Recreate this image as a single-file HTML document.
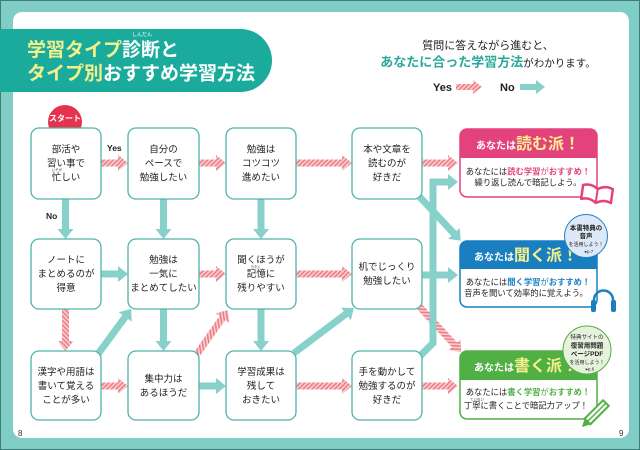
<!DOCTYPE html>
<html><head><meta charset="utf-8">
<style>
html,body{margin:0;padding:0;background:#7fcdc5;}
svg{display:block;}
text{font-family:"Liberation Sans","Noto Sans CJK JP",sans-serif;}
</style></head>
<body>
<svg width="640" height="450" viewBox="0 0 640 450" xmlns="http://www.w3.org/2000/svg">
<defs>
<pattern id="h" width="3.2" height="3.2" patternUnits="userSpaceOnUse" patternTransform="rotate(45)">
<rect width="3.2" height="3.2" fill="#fbcfd1"/><rect width="1.6" height="3.2" fill="#ec7e86"/>
</pattern>
</defs>
<rect x="0" y="0" width="640" height="450" fill="#7fcdc5"/>
<rect x="0.5" y="0.5" width="639" height="449" fill="none" stroke="#3f7d78" stroke-width="1"/>
<rect x="13" y="12" width="616" height="426" rx="9" fill="#fff"/>

<!-- title banner -->
<path d="M0,29 H240.5 A31.5,31.5 0 0 1 240.5,92 H0 Z" fill="#1bab9d"/>
<text x="142" y="36" font-size="5" fill="#fff" text-anchor="middle">しんだん</text>
<text x="27" y="56" font-size="19" font-weight="bold"><tspan fill="#f3f08c">学習タイプ</tspan><tspan fill="#fff">診断と</tspan></text>
<text x="27" y="79.5" font-size="19" font-weight="bold"><tspan fill="#f3f08c">タイプ別</tspan><tspan fill="#fff">おすすめ学習方法</tspan></text>

<!-- right header -->
<text x="488" y="49" font-size="11" fill="#222" text-anchor="middle">質問に答えながら進むと、</text>
<text x="488" y="66.5" text-anchor="middle"><tspan font-size="13" font-weight="bold" fill="#2aa89c">あなたに合った学習方法</tspan><tspan font-size="10.5" fill="#222">がわかります。</tspan></text>

<!-- legend -->
<text x="433" y="91" font-size="11" font-weight="bold" fill="#222">Yes</text>
<polygon points="456,84 473,84 473,80 482,87 473,94 473,90 456,90" fill="url(#h)"/>
<text x="500" y="91" font-size="11" font-weight="bold" fill="#222">No</text>
<polygon points="520,84 536,84 536,80 545,87 536,94 536,90 520,90" fill="#88d1ca"/>

<!-- start badge -->
<circle cx="65" cy="122" r="17" fill="#e6334d"/>
<text x="65" y="121" font-size="8" font-weight="bold" fill="#fff" text-anchor="middle">スタート</text>

<!-- Yes / No labels -->
<text x="107" y="151" font-size="8.5" font-weight="bold" fill="#222">Yes</text>
<text x="46" y="219" font-size="8.5" font-weight="bold" fill="#222">No</text>

<!-- arrows -->
<g>
<polygon transform="translate(100,163)" points="0,-3.5 18,-3.5 18,-8 28,0 18,8 18,3.5 0,3.5" fill="url(#h)"/>
<polygon transform="translate(199,163)" points="0,-3.5 17,-3.5 17,-8 27,0 17,8 17,3.5 0,3.5" fill="url(#h)"/>
<polygon transform="translate(296,163)" points="0,-3.5 46,-3.5 46,-8 56,0 46,8 46,3.5 0,3.5" fill="url(#h)"/>
<polygon transform="translate(422,163)" points="0,-3.5 26,-3.5 26,-8 36,0 26,8 26,3.5 0,3.5" fill="url(#h)"/>
<polygon transform="translate(100,274)" points="0,-3.5 18,-3.5 18,-8 28,0 18,8 18,3.5 0,3.5" fill="#88d1ca"/>
<polygon transform="translate(199,274)" points="0,-3.5 17,-3.5 17,-8 27,0 17,8 17,3.5 0,3.5" fill="url(#h)"/>
<polygon transform="translate(296,274)" points="0,-3.5 46,-3.5 46,-8 56,0 46,8 46,3.5 0,3.5" fill="url(#h)"/>
<polygon transform="translate(422,275)" points="0,-3.5 26,-3.5 26,-8 36,0 26,8 26,3.5 0,3.5" fill="#88d1ca"/>
<polygon transform="translate(100,386)" points="0,-3.5 18,-3.5 18,-8 28,0 18,8 18,3.5 0,3.5" fill="url(#h)"/>
<polygon transform="translate(199,386)" points="0,-3.5 17,-3.5 17,-8 27,0 17,8 17,3.5 0,3.5" fill="#88d1ca"/>
<polygon transform="translate(296,386)" points="0,-3.5 46,-3.5 46,-8 56,0 46,8 46,3.5 0,3.5" fill="url(#h)"/>
<polygon transform="translate(422,386)" points="0,-3.5 26,-3.5 26,-8 36,0 26,8 26,3.5 0,3.5" fill="url(#h)"/>
<polygon transform="translate(65.5,199) rotate(90)" points="0,-3.5 30,-3.5 30,-8 40,0 30,8 30,3.5 0,3.5" fill="#88d1ca"/>
<polygon transform="translate(163.5,199) rotate(90)" points="0,-3.5 30,-3.5 30,-8 40,0 30,8 30,3.5 0,3.5" fill="#88d1ca"/>
<polygon transform="translate(261,199) rotate(90)" points="0,-3.5 30,-3.5 30,-8 40,0 30,8 30,3.5 0,3.5" fill="#88d1ca"/>
<polygon transform="translate(65.5,309) rotate(90)" points="0,-3.5 32,-3.5 32,-8 42,0 32,8 32,3.5 0,3.5" fill="url(#h)"/>
<polygon transform="translate(163.5,309) rotate(90)" points="0,-3.5 32,-3.5 32,-8 42,0 32,8 32,3.5 0,3.5" fill="#88d1ca"/>
<polygon transform="translate(261,309) rotate(90)" points="0,-3.5 32,-3.5 32,-8 42,0 32,8 32,3.5 0,3.5" fill="#88d1ca"/>
<polygon transform="translate(417,194) rotate(46.9)" points="0,-3.5 54,-3.5 54,-8 64,0 54,8 54,3.5 0,3.5" fill="#88d1ca"/>
<polygon transform="translate(418,305) rotate(47.5)" points="0,-3.5 54,-3.5 54,-8 64,0 54,8 54,3.5 0,3.5" fill="url(#h)"/>
<polygon transform="translate(98,354) rotate(-53.7)" points="0,-3.5 46,-3.5 46,-8 56,0 46,8 46,3.5 0,3.5" fill="#88d1ca"/>
<polygon transform="translate(197,354) rotate(-54.8)" points="0,-3.5 44,-3.5 44,-8 54,0 44,8 44,3.5 0,3.5" fill="url(#h)"/>
<polygon transform="translate(294,353) rotate(-36.9)" points="0,-3.5 65,-3.5 65,-8 75,0 65,8 65,3.5 0,3.5" fill="#88d1ca"/>
<polyline points="419,357 433,343 433,182 449,182" fill="none" stroke="#88d1ca" stroke-width="7" stroke-linejoin="miter"/>
<polygon points="448,174 458,182 448,190" fill="#88d1ca"/>
</g>

<!-- nodes -->
<g fill="#fff" stroke="#4fb3a9" stroke-width="1.3">
<rect x="31" y="128" width="70" height="71" rx="8"/>
<rect x="128" y="128" width="71" height="71" rx="8"/>
<rect x="226" y="128" width="70" height="71" rx="8"/>
<rect x="352" y="128" width="70" height="71" rx="8"/>
<rect x="31" y="239" width="70" height="70" rx="8"/>
<rect x="128" y="239" width="71" height="70" rx="8"/>
<rect x="226" y="239" width="70" height="70" rx="8"/>
<rect x="352" y="239" width="70" height="70" rx="8"/>
<rect x="31" y="351" width="70" height="69" rx="8"/>
<rect x="128" y="351" width="71" height="69" rx="8"/>
<rect x="226" y="351" width="70" height="69" rx="8"/>
<rect x="352" y="351" width="70" height="69" rx="8"/>
</g>

<g font-size="9.5" fill="#222" text-anchor="middle">
<text x="66" y="152.5">部活や</text><text x="66" y="166.5">習い事で</text><text x="66" y="180.5">忙しい</text>
<text x="163.5" y="152.5">自分の</text><text x="163.5" y="166.5">ペースで</text><text x="163.5" y="180.5">勉強したい</text>
<text x="261" y="152.5">勉強は</text><text x="261" y="166.5">コツコツ</text><text x="261" y="180.5">進めたい</text>
<text x="387" y="152.5">本や文章を</text><text x="387" y="166.5">読むのが</text><text x="387" y="180.5">好きだ</text>

<text x="66" y="263">ノートに</text><text x="66" y="277">まとめるのが</text><text x="66" y="291">得意</text>
<text x="163.5" y="263">勉強は</text><text x="163.5" y="277">一気に</text><text x="163.5" y="291">まとめてしたい</text>
<text x="261" y="263">聞くほうが</text><text x="261" y="277">記憶に</text><text x="261" y="291">残りやすい</text>
<text x="387" y="270">机でじっくり</text><text x="387" y="284">勉強したい</text>

<text x="66" y="375">漢字や用語は</text><text x="66" y="389">書いて覚える</text><text x="66" y="403">ことが多い</text>
<text x="163.5" y="382">集中力は</text><text x="163.5" y="396">あるほうだ</text>
<text x="261" y="375">学習成果は</text><text x="261" y="389">残して</text><text x="261" y="403">おきたい</text>
<text x="387" y="375">手を動かして</text><text x="387" y="389">勉強するのが</text><text x="387" y="403">好きだ</text>
</g>
<g font-size="3.5" fill="#444" text-anchor="middle">
<text x="57" y="171">いそが</text>
<text x="256" y="268">きおく</text>
</g>

<!-- result: 読む派 -->
<rect x="460" y="129" width="137" height="68" rx="7" fill="#fff" stroke="#e4427d" stroke-width="1.5"/>
<path d="M460,158 V136 A7,7 0 0 1 467,129 H590 A7,7 0 0 1 597,136 V158 Z" fill="#e4427d"/>
<text x="528" y="149" text-anchor="middle" font-weight="bold"><tspan font-size="10" fill="#fff">あなたは</tspan><tspan font-size="16" fill="#f7ef8f">読む派！</tspan></text>
<text x="528" y="174.5" text-anchor="middle" font-size="8.3"><tspan fill="#222">あなたには</tspan><tspan fill="#e4427d" font-weight="bold">読む学習</tspan><tspan fill="#e4427d">が</tspan><tspan fill="#e4427d" font-weight="bold">おすすめ！</tspan></text>
<text x="528" y="185.5" text-anchor="middle" font-size="8.3" fill="#222">繰り返し読んで暗記しよう。</text>
<g transform="rotate(8 597 194)">
<path d="M582,187 Q590,184 597,189 Q604,184 612,187 L612,201 Q604,198 597,203 Q590,198 582,201 Z" fill="#fff" stroke="#e4427d" stroke-width="2.5" stroke-linejoin="round"/>
<path d="M597,189 V203" stroke="#e4427d" stroke-width="2"/>
</g>

<!-- result: 聞く派 -->
<rect x="460" y="241" width="137" height="66" rx="7" fill="#fff" stroke="#1a7fc1" stroke-width="1.5"/>
<path d="M460,269 V248 A7,7 0 0 1 467,241 H590 A7,7 0 0 1 597,248 V269 Z" fill="#1a7fc1"/>
<text x="526" y="260.5" text-anchor="middle" font-weight="bold"><tspan font-size="10" fill="#fff">あなたは</tspan><tspan font-size="16" fill="#f7ef8f">聞く派！</tspan></text>
<text x="528" y="285" text-anchor="middle" font-size="8.3"><tspan fill="#222">あなたには</tspan><tspan fill="#1a7fc1" font-weight="bold">聞く学習</tspan><tspan fill="#1a7fc1">が</tspan><tspan fill="#1a7fc1" font-weight="bold">おすすめ！</tspan></text>
<text x="526" y="296" text-anchor="middle" font-size="8.3" fill="#222">音声を聞いて効率的に覚えよう。</text>
<path d="M594,305 V300 A9.5,9.5 0 0 1 613,300 V305" fill="none" stroke="#1a7fc1" stroke-width="2.5"/>
<rect x="591" y="300" width="5" height="12" rx="2" fill="#1a7fc1"/>
<rect x="611" y="300" width="5" height="12" rx="2" fill="#1a7fc1"/>
<circle cx="586" cy="236" r="21.5" fill="#dde9f6" stroke="#1a7fc1" stroke-width="1"/>
<g text-anchor="middle" fill="#222">
<text x="586" y="230" font-size="6.5" font-weight="bold">本書特典の</text>
<text x="586" y="238" font-size="6.5" font-weight="bold">音声</text>
<text x="586" y="246" font-size="5">を活用しよう！</text>
<text x="589" y="253" font-size="4.5">▸p.7</text>
</g>

<!-- result: 書く派 -->
<rect x="460" y="351" width="137" height="68" rx="7" fill="#fff" stroke="#50b043" stroke-width="1.5"/>
<path d="M460,380 V358 A7,7 0 0 1 467,351 H590 A7,7 0 0 1 597,358 V380 Z" fill="#50b043"/>
<text x="526" y="371" text-anchor="middle" font-weight="bold"><tspan font-size="10" fill="#fff">あなたは</tspan><tspan font-size="16" fill="#f7ef8f">書く派！</tspan></text>
<text x="528" y="395" text-anchor="middle" font-size="8.3"><tspan fill="#222">あなたには</tspan><tspan fill="#50b043" font-weight="bold">書く学習</tspan><tspan fill="#50b043">が</tspan><tspan fill="#50b043" font-weight="bold">おすすめ！</tspan></text>
<text x="477" y="400.5" text-anchor="middle" font-size="3.5" fill="#444">ていねい</text>
<text x="526" y="408.5" text-anchor="middle" font-size="8.3" fill="#222">丁寧に書くことで暗記力アップ！</text>
<g transform="translate(596,413) rotate(-45)">
<rect x="-12" y="-4" width="26" height="8" fill="#fff" stroke="#50b043" stroke-width="2"/>
<line x1="-12" y1="0" x2="14" y2="0" stroke="#50b043" stroke-width="1.5"/>
<polygon points="-12,-4 -20,0 -12,4" fill="#50b043"/>
</g>
<circle cx="587" cy="350" r="24" fill="#e6f2dd" stroke="#50b043" stroke-width="1"/>
<g text-anchor="middle" fill="#222">
<text x="587" y="339" font-size="5.5">特典サイトの</text>
<text x="587" y="347.5" font-size="6.5" font-weight="bold">復習用問題</text>
<text x="587" y="356" font-size="6.5" font-weight="bold">ページPDF</text>
<text x="587" y="364" font-size="5">を活用しよう！</text>
<text x="590" y="370.5" font-size="4.5">▸p.6</text>
</g>

<text x="18" y="436" font-size="8" fill="#333">8</text>
<text x="619" y="436" font-size="8" fill="#333">9</text>
</svg>
</body></html>
